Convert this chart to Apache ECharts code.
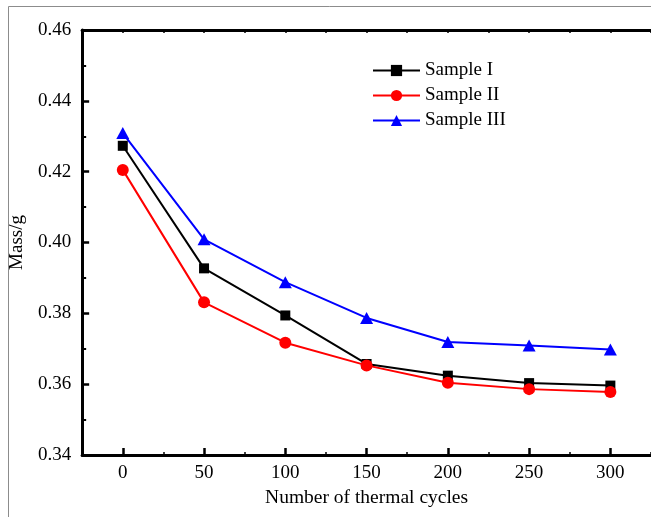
<!DOCTYPE html>
<html>
<head>
<meta charset="utf-8">
<script src="https://cdn.jsdelivr.net/npm/echarts@6/dist/echarts.min.js"></script>
<style>html,body{margin:0;padding:0;background:#fff}#c{width:651px;height:517px}</style>
</head>
<body>
<div id="c"></div>
<script>
const cycles = [0, 50, 100, 150, 200, 250, 300];
const sampleI = [0.4273, 0.3927, 0.3794, 0.3657, 0.3624, 0.3603, 0.3596];
const sampleII = [0.4205, 0.3831, 0.3717, 0.3653, 0.3604, 0.3586, 0.3578];
const sampleIII = [0.4309, 0.4009, 0.3888, 0.3787, 0.3719, 0.3709, 0.3698];
const seriesNames = ['Sample I', 'Sample II', 'Sample III'];
const xMajorTicks = [0, 50, 100, 150, 200, 250, 300];
const xMinorTicks = [-25, 25, 75, 125, 175, 225, 275, 325];
const xAllTicks = [-25, 0, 25, 50, 75, 100, 125, 150, 175, 200, 225, 250, 275, 300, 325];

const FONT = '"Liberation Serif", "Times New Roman", serif';
const pair = arr => cycles.map((c, i) => [c, arr[i]]);
const mkLine = () => ({ show: true, onZero: false, lineStyle: { color: '#000', width: 3 } });

const chart = echarts.init(document.getElementById('c'));
chart.setOption({
  animation: false,
  backgroundColor: '#fff',
  graphic: [{
    type: 'polyline', silent: true, z: -1,
    shape: { points: [[8.5, 517], [8.5, 6.5], [651, 6.5]] },
    style: { fill: null, stroke: '#8c8c8c', lineWidth: 1 }
  }],
  grid: { left: 80, top: 30, width: 575, height: 425 },
  legend: {
    orient: 'vertical', left: 372, top: 61, padding: 0, itemWidth: 47, itemHeight: 14, itemGap: 6,
    textStyle: { fontFamily: FONT, fontSize: 19, color: '#000' },
    data: seriesNames
  },
  xAxis: [{
    type: 'value', min: -25, max: 325, position: 'bottom',
    name: 'Number of thermal cycles', nameLocation: 'middle', nameGap: 33,
    nameTextStyle: { fontFamily: FONT, fontSize: 19.5, color: '#000' },
    axisLine: mkLine(),
    axisTick: { show: true, inside: true, length: 7, customValues: xMajorTicks, lineStyle: { color: '#000', width: 2.5 } },
    axisLabel: { show: true, customValues: xMajorTicks, margin: 9, fontFamily: FONT, fontSize: 19, color: '#000' },
    splitLine: { show: false }
  }, {
    type: 'value', min: -25, max: 325, position: 'bottom',
    axisLine: { show: false, onZero: false },
    axisTick: { show: true, inside: true, length: 3, customValues: xMinorTicks, lineStyle: { color: '#000', width: 1.5 } },
    axisLabel: { show: false },
    splitLine: { show: false }
  }, {
    type: 'value', min: -25, max: 325, position: 'top',
    axisLine: mkLine(),
    axisTick: { show: true, inside: true, length: 3, customValues: xAllTicks, lineStyle: { color: '#000', width: 1.5 } },
    axisLabel: { show: false },
    splitLine: { show: false }
  }],
  yAxis: [{
    type: 'value', min: 0.34, max: 0.46, interval: 0.02, position: 'left',
    name: 'Mass/g', nameLocation: 'middle', nameGap: 52,
    nameTextStyle: { fontFamily: FONT, fontSize: 19, color: '#000' },
    axisLine: mkLine(),
    axisTick: { show: true, inside: true, length: 7, lineStyle: { color: '#000', width: 2.5 } },
    minorTick: { show: true, splitNumber: 2, length: 4, lineStyle: { color: '#000', width: 2 } },
    axisLabel: { margin: 11, fontFamily: FONT, fontSize: 19, color: '#000', formatter: v => v.toFixed(2) },
    splitLine: { show: false }
  }],
  series: [{
    name: seriesNames[0], type: 'line', data: pair(sampleI),
    symbol: 'rect', symbolSize: 10, itemStyle: { color: '#000' },
    lineStyle: { color: '#000', width: 2 }
  }, {
    name: seriesNames[1], type: 'line', data: pair(sampleII),
    symbol: 'circle', symbolSize: 12, itemStyle: { color: '#ff0000' },
    lineStyle: { color: '#ff0000', width: 2 }
  }, {
    name: seriesNames[2], type: 'line', data: pair(sampleIII),
    symbol: 'triangle', symbolSize: [13, 12], itemStyle: { color: '#0000ff' },
    lineStyle: { color: '#0000ff', width: 2 }
  }]
});
</script>
</body>
</html>
